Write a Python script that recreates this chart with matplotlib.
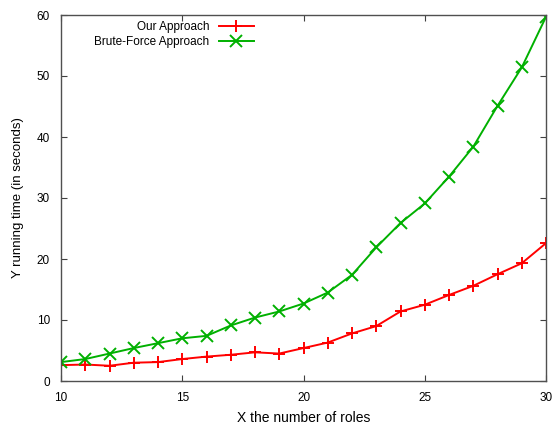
import numpy as np
import matplotlib
matplotlib.use('Agg')
import matplotlib.pyplot as plt

# datos
roles = [10, 11, 12, 13, 14, 15, 16, 17, 18, 19, 20,
         21, 22, 23, 24, 25, 26, 27, 28, 29, 30]
our_approach = [2.6, 2.7, 2.5, 3.0, 3.1, 3.6, 4.0, 4.3, 4.7, 4.5, 5.4,
                6.3, 7.8, 9.0, 11.4, 12.5, 14.1, 15.6, 17.5, 19.3, 22.6]
brute_force = [3.1, 3.6, 4.5, 5.4, 6.2, 7.0, 7.4, 9.1, 10.4, 11.4, 12.7,
               14.5, 17.4, 21.9, 25.9, 29.1, 33.5, 38.4, 45.1, 51.4, 59.7]

x_ticks = [10, 15, 20, 25, 30]
y_ticks = [0, 10, 20, 30, 40, 50, 60]

plt.rcParams['font.family'] = ['Liberation Sans', 'DejaVu Sans']

fig = plt.figure(figsize=(5.52, 4.26), dpi=100)
ax = fig.add_axes([61 / 552, 1 - 381 / 426, 485 / 552, 366 / 426])

ax.plot(roles, our_approach, color='#ff0000', marker='+', markersize=8,
        markeredgewidth=1.4, linewidth=1.4, label='Our Approach')
ax.plot(roles, brute_force, color='#00b000', marker='x', markersize=8,
        markeredgewidth=1.4, linewidth=1.4, label='Brute-Force Approach')

ax.set_xlim(10, 30)
ax.set_ylim(0, 60)
ax.set_xticks(x_ticks)
ax.set_yticks(y_ticks)
ax.tick_params(direction='in', top=True, right=True, length=4, width=0.8,
               labelsize=8.5, color='#404040', pad=8)
for s in ax.spines.values():
    s.set_color('#505050')
    s.set_linewidth(1.0)

ax.set_xlabel('X the number of roles', fontsize=10, labelpad=5)
ax.set_ylabel('Y running time (in seconds)', fontsize=9.5, labelpad=9)

# leyenda estilo gnuplot: texto a la izquierda, muestra a la derecha
leg = ax.legend(loc='upper right', bbox_to_anchor=(0.398, 0.984), markerfirst=False,
                frameon=False, fontsize=8.5, handlelength=3.0, handletextpad=0.8,
                borderaxespad=0, borderpad=0, labelspacing=0.25)
for t in leg.get_texts():
    t.set_ha('right')
leg._legend_box.align = 'right'

fig.savefig('out.png', dpi=100)
